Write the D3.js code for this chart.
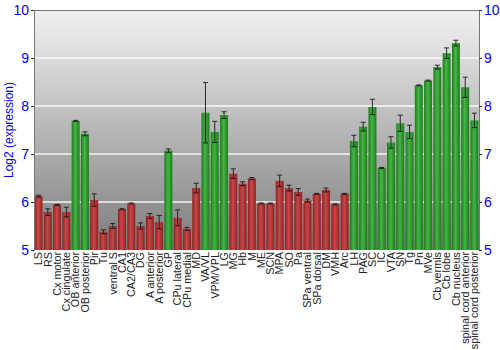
<!DOCTYPE html>
<html><head><meta charset="utf-8">
<script src="https://cdn.jsdelivr.net/npm/d3@7"></script>
<style>body{margin:0;background:#fff;}svg{display:block;}</style>
</head><body>
<svg id="chart" width="500" height="350"></svg>
<script>
const categories = ["LS","RS","Cx motor","Cx cingulate","OB anterior","OB posterior","Pir","Tu","ventral S","CA1","CA2/CA3","DG","A anterior","A posterior","GP","CPu lateral","CPu medial","MD","VA/VL","VPM/VPL","LG","MG","Hb","M","ME","SCN","MPA","SO","Pa","SPa ventral","SPa dorsal","DM","VMH","Arc","LH","PAG","SC","IC","VTA","SN","Tg","Pn","MVe","Cb vermis","Cb lobe","Cb nucleus","spinal cord anterior","spinal cord posterior"];
const values = [6.12,5.79,5.94,5.79,7.69,7.42,6.04,5.38,5.50,5.85,5.97,5.50,5.71,5.58,7.07,5.67,5.44,6.29,7.86,7.46,7.81,6.59,6.38,6.49,5.97,5.97,6.44,6.29,6.21,6.03,6.17,6.25,5.95,6.17,7.27,7.57,7.98,6.71,7.24,7.64,7.46,8.43,8.53,8.81,9.10,9.31,8.39,7.70];
const errors = [0.02,0.07,0.01,0.10,0.01,0.04,0.13,0.04,0.05,0.01,0.01,0.065,0.05,0.14,0.035,0.165,0.03,0.10,0.63,0.22,0.07,0.10,0.04,0.02,0.01,0.01,0.12,0.06,0.07,0.03,0.01,0.04,0.01,0.01,0.12,0.09,0.16,0.01,0.12,0.17,0.14,0.01,0.01,0.04,0.11,0.06,0.21,0.15];
const groups = [0,0,0,0,1,1,0,0,0,0,0,0,0,0,1,0,0,0,1,1,1,0,0,0,0,0,0,0,0,0,0,0,0,0,1,1,1,1,1,1,1,1,1,1,1,1,1,1];
const yTicks = [5,6,7,8,9,10];

const svg = d3.select("#chart");
const m = {l:34, r:479, t:10, b:250};
const x = d3.scaleBand().domain(categories).range([m.l, m.r]).paddingInner(0.14).paddingOuter(0.06);
const y = d3.scaleLinear().domain([5,10]).range([m.b, m.t]);

const defs = svg.append("defs");
const bg = defs.append("linearGradient").attr("id","bg").attr("x1",0).attr("y1",0).attr("x2",0).attr("y2",1);
bg.append("stop").attr("offset","0%").attr("stop-color","#f2f2f2");
bg.append("stop").attr("offset","100%").attr("stop-color","#7c7c7c");
function barGrad(id, edge, mid){
  const g = defs.append("linearGradient").attr("id",id).attr("x1",0).attr("y1",0).attr("x2",1).attr("y2",0);
  g.append("stop").attr("offset","0%").attr("stop-color",edge);
  g.append("stop").attr("offset","45%").attr("stop-color",mid);
  g.append("stop").attr("offset","100%").attr("stop-color",edge);
}
barGrad("red","#8e2222","#c84848");
barGrad("green","#1e7a1e","#44b644");

svg.append("rect").attr("x",m.l).attr("y",m.t).attr("width",m.r-m.l).attr("height",m.b-m.t).attr("fill","url(#bg)");

svg.append("g").selectAll("line").data(yTicks.filter(d=>d>5 && d<10)).join("line")
  .attr("x1",m.l).attr("x2",m.r).attr("y1",d=>y(d)).attr("y2",d=>y(d))
  .attr("stroke","#ffffff").attr("stroke-width",1.6).attr("opacity",0.9);

svg.append("g").selectAll("rect").data(categories).join("rect")
  .attr("x",d=>x(d)).attr("width",x.bandwidth())
  .attr("y",(d,i)=>y(values[i])).attr("height",(d,i)=>y(5)-y(values[i]))
  .attr("fill",(d,i)=>groups[i] ? "url(#green)" : "url(#red)");

const eg = svg.append("g").attr("stroke","#111").attr("stroke-width",1).attr("opacity",0.85);
categories.forEach((c,i)=>{
  const cx = x(c) + x.bandwidth()/2;
  const y1 = y(values[i]+errors[i]), y2 = y(values[i]-errors[i]);
  eg.append("line").attr("x1",cx).attr("x2",cx).attr("y1",y1).attr("y2",y2);
  eg.append("line").attr("x1",cx-2.5).attr("x2",cx+2.5).attr("y1",y1).attr("y2",y1);
  eg.append("line").attr("x1",cx-2.5).attr("x2",cx+2.5).attr("y1",y2).attr("y2",y2);
});

svg.append("line").attr("x1",m.l).attr("x2",m.r).attr("y1",m.t+0.5).attr("y2",m.t+0.5).attr("stroke","#777");

const yl = svg.append("g").attr("transform",`translate(${m.l},0)`).call(d3.axisLeft(y).tickValues(yTicks).tickFormat(d3.format("d")).tickSize(3).tickPadding(2));
const yr = svg.append("g").attr("transform",`translate(${m.r},0)`).call(d3.axisRight(y).tickValues(yTicks).tickFormat(d3.format("d")).tickSize(3).tickPadding(2));
[yl,yr].forEach(a=>{
  a.select(".domain").attr("stroke","#777");
  a.selectAll(".tick line").attr("stroke","#333");
  a.selectAll("text").attr("fill","#0000ee").style("font-family","'Liberation Sans', Arial, sans-serif").style("font-size","14px");
});

const xa = svg.append("g").attr("transform",`translate(0,${m.b})`).call(d3.axisBottom(x).tickSize(0).tickPadding(0));
xa.select(".domain").remove();
xa.selectAll("text")
  .attr("transform","rotate(-90)")
  .attr("x",-2).attr("y",0).attr("dy","0.35em")
  .attr("text-anchor","end")
  .attr("fill","#222")
  .style("font-family","'Liberation Sans', Arial, sans-serif").style("font-size","10.8px");

svg.append("text").attr("transform",`translate(9,${(m.t+m.b)/2}) rotate(-90)`)
  .attr("text-anchor","middle").attr("dy","0.35em").attr("fill","#0000ee")
  .style("font-family","'Liberation Sans', Arial, sans-serif").style("font-size","12px")
  .text("Log2 (expression)");
</script>
</body></html>
